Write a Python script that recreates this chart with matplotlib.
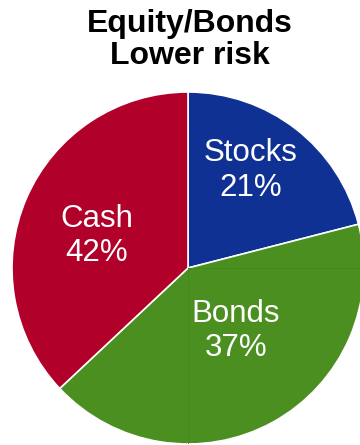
import numpy as np
import matplotlib
matplotlib.use("Agg")
import matplotlib.pyplot as plt

plt.rcParams['font.family'] = ['Liberation Sans', 'DejaVu Sans']

# slice sizes as drawn, and the labels printed on them
categories = ["Stocks", "Bonds", "Cash"]
sizes = [21, 42, 37]
pct_labels = ["21%", "37%", "42%"]
colors = ["#0F3193", "#4A8F1F", "#B1002A"]

# label placement: fraction of radius, angle shift from slice middle (deg)
label_r = [0.66, 0.45, 0.55]
label_shift = [5, 8.5, 4]

fig = plt.figure(figsize=(3.6, 4.45), dpi=100)
ax = fig.add_axes([0, 0, 1, 1])

cx, cy, R = 188, 177, 176
wedges, _ = ax.pie(sizes, colors=colors, center=(cx, cy), radius=R,
                   startangle=90, counterclock=False,
                   wedgeprops=dict(edgecolor="white", linewidth=1.2))

# faint inner seams seen in the bonds slice
ax.plot([cx, cx + R], [cy, cy], color="#43891C", lw=0.7, zorder=3)
ax.plot([cx, cx], [cy, cy - R + 1], color="#43891C", lw=0.7, zorder=3)

for w, name, pct, fr, sh in zip(wedges, categories, pct_labels, label_r, label_shift):
    mid = np.deg2rad((w.theta1 + w.theta2) / 2 + sh)
    x = cx + fr * R * np.cos(mid)
    y = cy + fr * R * np.sin(mid)
    ax.text(x, y, name + "\n" + pct, color="white", fontsize=22.5,
            ha="center", va="center", linespacing=1.2, zorder=4)

ax.set_xlim(0, 360)
ax.set_ylim(0, 445)
ax.set_aspect("equal")
ax.axis("off")

fig.text(190 / 360, 1 - 40 / 445, "Equity/Bonds\nLower risk", fontsize=23,
         fontweight="bold", ha="center", va="center", linespacing=1.08)

fig.savefig("out.png", dpi=100)
